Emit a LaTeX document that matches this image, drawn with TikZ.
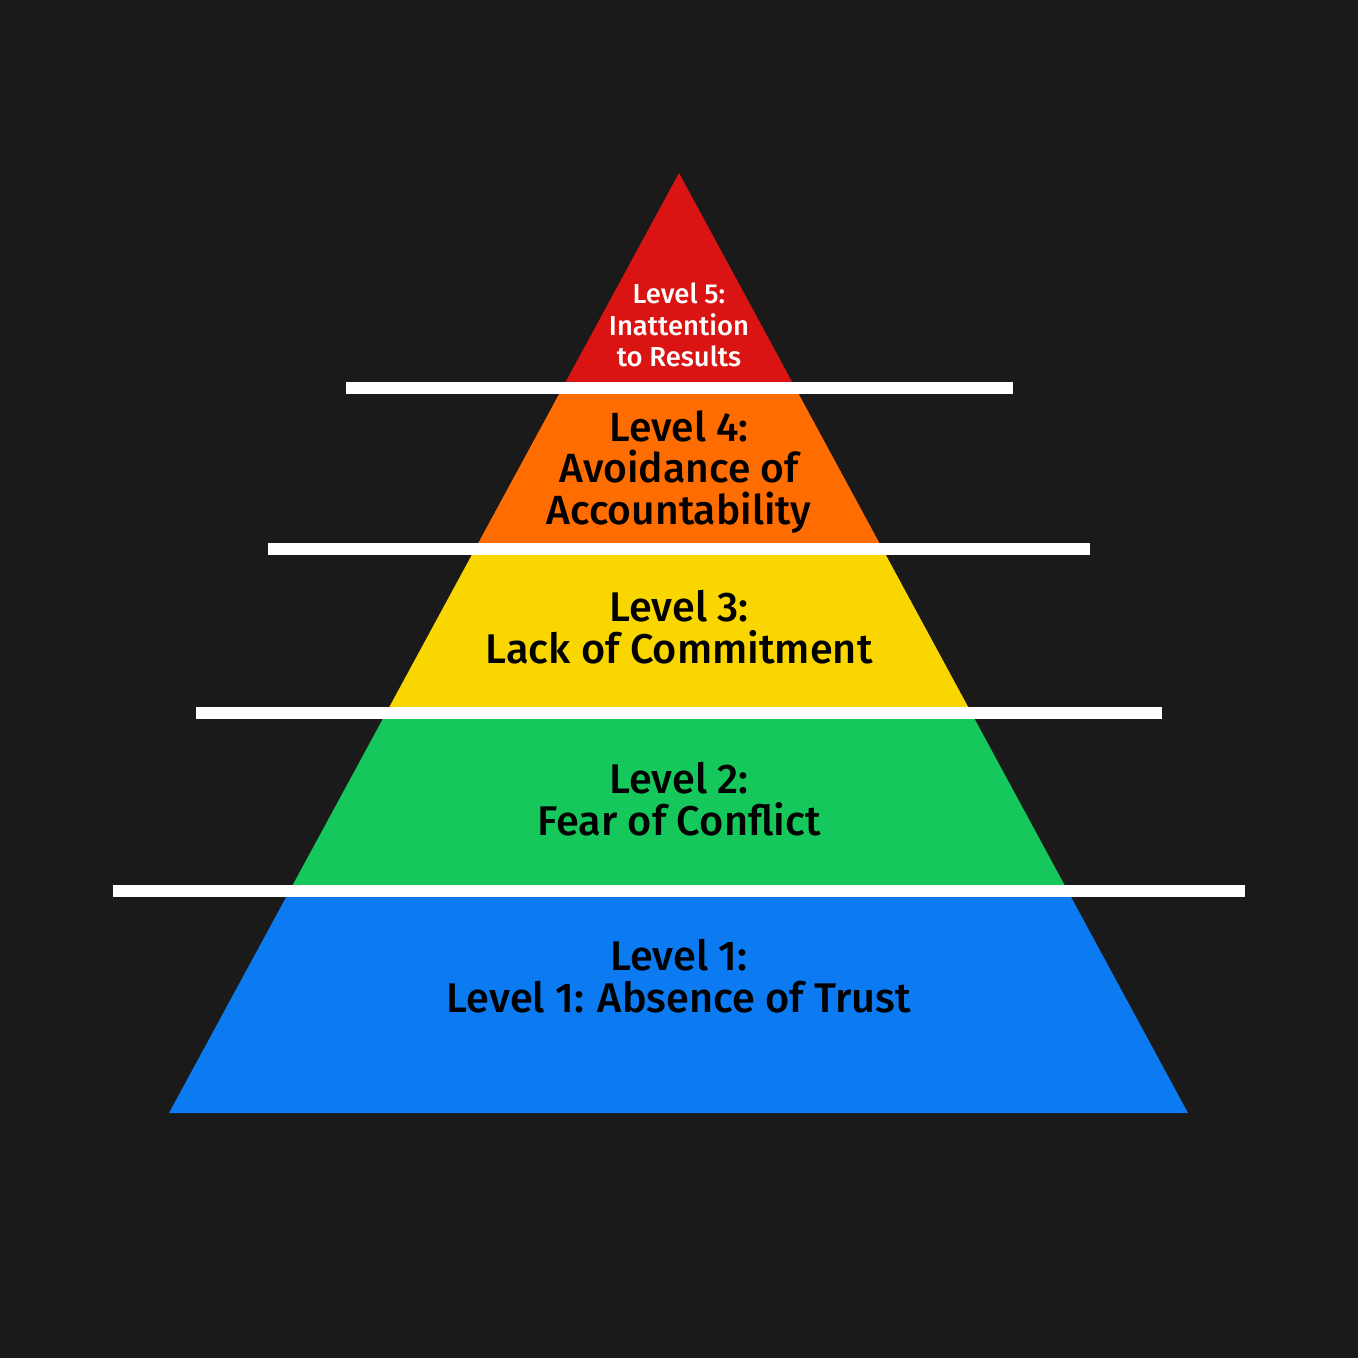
\documentclass[tikz,border=0pt]{standalone}
\usepackage{fontspec}
\setmainfont{Fira Sans}[UprightFont=* Medium]
\definecolor{bg}{RGB}{26,26,26}
\definecolor{lvfive}{RGB}{218,20,18}
\definecolor{lvfour}{RGB}{255,108,0}
\definecolor{lvthree}{RGB}{250,214,0}
\definecolor{lvtwo}{RGB}{22,200,92}
\definecolor{lvone}{RGB}{12,122,240}
\tikzset{
  lbl/.style={align=center, font=\fontsize{11.8}{12}\selectfont, text=black},
  bar/.style={fill=white},
}
\begin{document}
\begin{tikzpicture}[x=0.01cm, y=-0.01cm]
	%background
	\fill[bg] (0,0) rectangle (1358,1358);
	%bands
	\begin{scope}
		\clip (679,173) -- (1188,1113) -- (169,1113) -- cycle;
		\foreach \top/\bot/\col in {170/390/lvfive, 390/550/lvfour, 550/715/lvthree, 715/892/lvtwo, 892/1115/lvone}
		\fill[\col] (100,\top) rectangle (1260,\bot);
	\end{scope}
	%bars
	\foreach \y/\l/\r in {388/346/1013, 549/268/1090, 713/196/1162, 891/113/1245}
	\fill[bar] (\l,\y-6) rectangle (\r,\y+6);
	%labels
	\node[lbl, text=white, font=\fontsize{7.8}{9}\selectfont] (five) at (679,325) {Level 5:\\Inattention\\to Results};
	\node[lbl, font=\fontsize{11.6}{11.7}\selectfont] (four) at (679,472) {Level 4:\\Avoidance of\\Accountability};
	\node[lbl] (three) at (679,627) {Level 3:\\Lack of Commitment};
	\node[lbl] (two) at (679,799) {Level 2:\\Fear of Conflict};
	\node[lbl] (one) at (679,976) {Level 1:\\Level 1: Absence of Trust};
\end{tikzpicture}
\end{document}
